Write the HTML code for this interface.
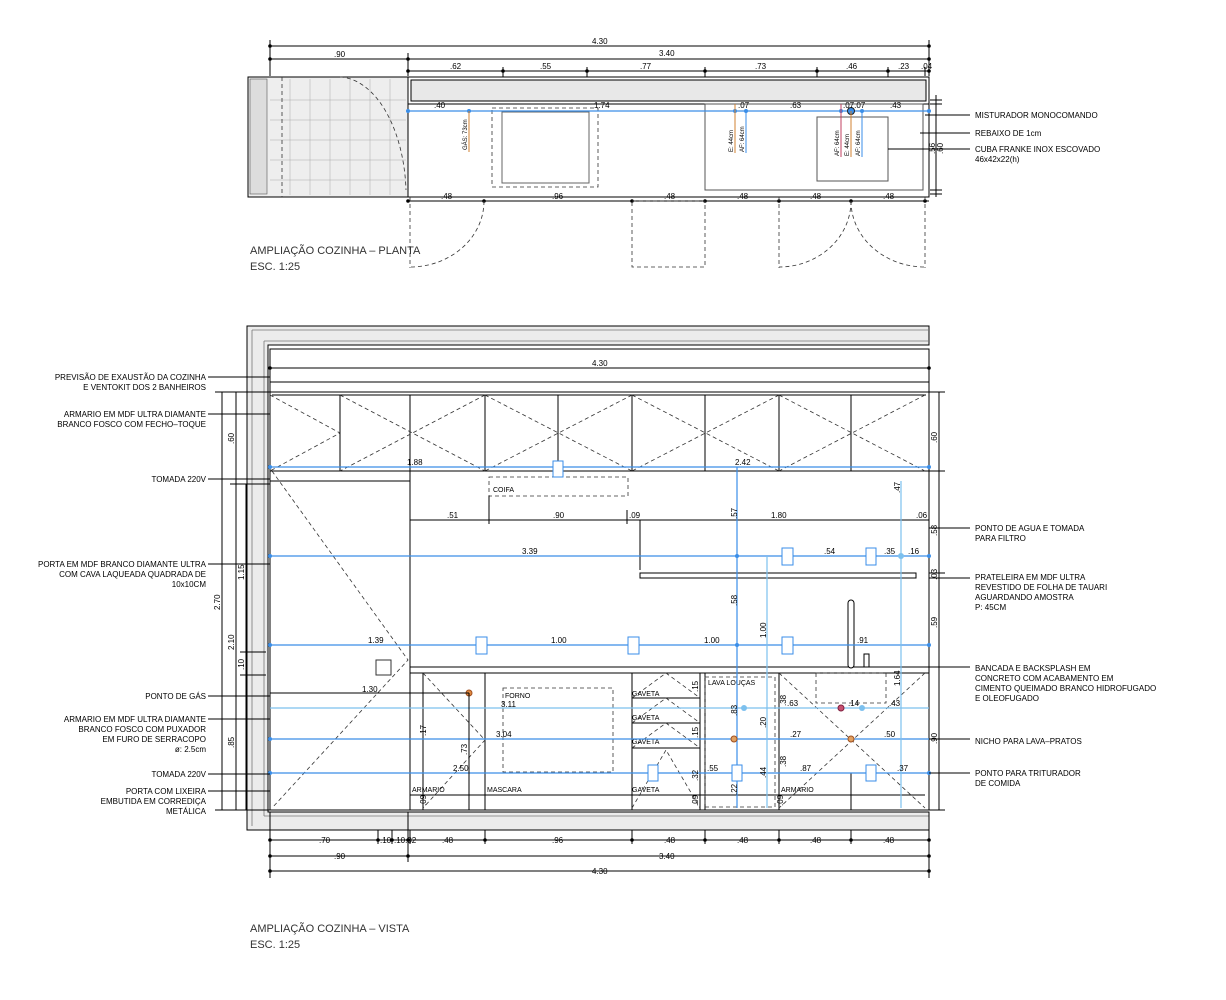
<!DOCTYPE html>
<html><head><meta charset="utf-8"><style>
html,body{margin:0;padding:0;background:#fff}
svg{display:block;font-family:"Liberation Sans",sans-serif}
text{font-size:8px;fill:#000}
.t{font-size:11px;fill:#333}
.k{stroke:#000;stroke-width:1;fill:none}
.g{stroke:#777;stroke-width:.8;fill:none}
.d{stroke:#333;stroke-width:.8;fill:none;stroke-dasharray:4 3}
.b{stroke:#3a8ee8;stroke-width:1.2;fill:none}
.lb{stroke:#7cc0ee;stroke-width:1.2;fill:none}
.bx{stroke:#3a8ee8;stroke-width:1;fill:#fff}
</style></head><body>
<svg width="1226" height="1000" viewBox="0 0 1226 1000" xmlns="http://www.w3.org/2000/svg">
<g class="k">
<line x1="270" y1="46" x2="929" y2="46"/><line x1="270" y1="40" x2="270" y2="76"/><line x1="929" y1="40" x2="929" y2="76"/>
<line x1="270" y1="59" x2="929" y2="59"/><line x1="408" y1="53" x2="408" y2="76"/>
<line x1="408" y1="71" x2="929" y2="71"/>
<line x1="503" y1="67" x2="503" y2="104"/><line x1="587" y1="67" x2="587" y2="104"/><line x1="705" y1="67" x2="705" y2="104"/><line x1="817" y1="67" x2="817" y2="104"/><line x1="888" y1="67" x2="888" y2="104"/><line x1="925" y1="67" x2="925" y2="76"/>
</g>
<g fill="#000"><circle cx="270" cy="46" r="1.8"/><circle cx="929" cy="46" r="1.8"/><circle cx="270" cy="59" r="1.8"/><circle cx="408" cy="59" r="1.8"/><circle cx="929" cy="59" r="1.8"/><circle cx="408" cy="71" r="1.8"/><circle cx="503" cy="71" r="1.8"/><circle cx="587" cy="71" r="1.8"/><circle cx="705" cy="71" r="1.8"/><circle cx="817" cy="71" r="1.8"/><circle cx="888" cy="71" r="1.8"/><circle cx="929" cy="71" r="1.8"/></g>
<text x="592" y="44">4.30</text><text x="334" y="57">.90</text><text x="659" y="56">3.40</text>
<text x="450" y="69">.62</text><text x="540" y="69">.55</text><text x="640" y="69">.77</text><text x="755" y="69">.73</text><text x="846" y="69">.46</text><text x="898" y="69">.23</text><text x="921" y="69">.04</text>
<rect x="248" y="77" width="160" height="120" fill="#eee" stroke="#000"/>
<rect x="250" y="79" width="17" height="115" fill="#ddd" stroke="#555" stroke-width=".6"/>
<g stroke="#aaa" stroke-width=".5">
<line x1="290" y1="79" x2="290" y2="195"/><line x1="310" y1="79" x2="310" y2="195"/><line x1="330" y1="79" x2="330" y2="195"/><line x1="350" y1="79" x2="350" y2="195"/><line x1="370" y1="79" x2="370" y2="195"/><line x1="390" y1="79" x2="390" y2="195"/>
<line x1="270" y1="100" x2="406" y2="100"/><line x1="270" y1="120" x2="406" y2="120"/><line x1="270" y1="140" x2="406" y2="140"/><line x1="270" y1="160" x2="406" y2="160"/><line x1="270" y1="180" x2="406" y2="180"/>
</g>
<path class="d" d="M340 77 A68 120 0 0 1 406 190"/>
<line class="d" x1="282" y1="77" x2="282" y2="197"/>
<rect x="408" y="77" width="521" height="120" fill="#fff" stroke="#000"/>
<rect x="411" y="80" width="515" height="21" fill="#e8e8e8" stroke="#000"/>
<line class="k" x1="408" y1="104" x2="929" y2="104"/>
<rect class="d" x="492" y="108" width="106" height="79"/>
<rect x="502" y="112" width="87" height="71" fill="none" stroke="#666"/>
<rect x="705" y="104" width="218" height="86" fill="none" stroke="#555"/>
<rect x="817" y="117" width="71" height="64" fill="none" stroke="#555"/>
<line class="b" x1="408" y1="111" x2="929" y2="111"/>
<g fill="#3a8ee8"><circle cx="408" cy="111" r="2"/><circle cx="469" cy="111" r="2"/><circle cx="735" cy="111" r="2"/><circle cx="746" cy="111" r="2"/><circle cx="841" cy="111" r="2"/><circle cx="862" cy="111" r="2"/><circle cx="929" cy="111" r="2"/><circle cx="851" cy="111" r="3.5" stroke="#222"/></g>
<line stroke="#d08030" x1="469" y1="111" x2="469" y2="152"/>
<line stroke="#d08030" x1="735" y1="104" x2="735" y2="153"/><line stroke="#3a8ee8" x1="746" y1="111" x2="746" y2="153"/>
<line stroke="#c04060" x1="841" y1="104" x2="841" y2="157"/><line stroke="#d08030" x1="851" y1="111" x2="851" y2="157"/><line stroke="#3a8ee8" x1="862" y1="111" x2="862" y2="157"/>
<text transform="translate(467,150) rotate(-90)" style="font-size:6px">GÁS: 73cm</text>
<text transform="translate(733,152) rotate(-90)" style="font-size:6px">E: 44cm</text><text transform="translate(744,152) rotate(-90)" style="font-size:6px">AF: 64cm</text>
<text transform="translate(839,156) rotate(-90)" style="font-size:6px">AF: 64cm</text><text transform="translate(849,156) rotate(-90)" style="font-size:6px">E: 44cm</text><text transform="translate(860,156) rotate(-90)" style="font-size:6px">AF: 64cm</text>
<text x="434" y="108">.40</text><text x="594" y="108">1.74</text><text x="738" y="108">.07</text><text x="790" y="108">.63</text><text x="843" y="108">.07.07</text><text x="890" y="108">.43</text>
<g class="k"><line x1="936" y1="95" x2="936" y2="197"/><line x1="930" y1="100" x2="942" y2="100"/><line x1="930" y1="104" x2="942" y2="104"/><line x1="930" y1="190" x2="942" y2="190"/><line x1="930" y1="194" x2="942" y2="194"/></g>
<text transform="translate(935,154) rotate(-90)">.56</text><text transform="translate(943,154) rotate(-90)">.60</text>
<g class="k"><line x1="925" y1="115" x2="970" y2="115"/><line x1="920" y1="133" x2="970" y2="133"/><line x1="888" y1="149" x2="970" y2="149"/></g>
<text x="975" y="118">MISTURADOR MONOCOMANDO</text><text x="975" y="136">REBAIXO  DE 1cm</text><text x="975" y="152">CUBA FRANKE INOX ESCOVADO</text><text x="975" y="162">46x42x22(h)</text>
<g class="k"><line x1="408" y1="201" x2="929" y2="201"/></g>
<g fill="#000"><circle cx="408" cy="201" r="1.8"/><circle cx="484" cy="201" r="1.8"/><circle cx="632" cy="201" r="1.8"/><circle cx="705" cy="201" r="1.8"/><circle cx="779" cy="201" r="1.8"/><circle cx="851" cy="201" r="1.8"/><circle cx="925" cy="201" r="1.8"/></g>
<text x="441" y="199">.48</text><text x="552" y="199">.96</text><text x="664" y="199">.48</text><text x="737" y="199">.48</text><text x="810" y="199">.48</text><text x="883" y="199">.48</text>
<g class="d"><line x1="410" y1="197" x2="410" y2="268"/><path d="M484 201 A74 66 0 0 1 410 267"/><rect x="632" y="201" width="73" height="66"/><line x1="779" y1="197" x2="779" y2="268"/><line x1="925" y1="197" x2="925" y2="268"/><path d="M851 201 A72 66 0 0 1 779 267"/><path d="M851 201 A74 66 0 0 0 925 267"/></g>
<text class="t" x="250" y="254">AMPLIAÇÃO COZINHA – PLANTA</text><text class="t" x="250" y="270">ESC. 1:25</text>

<path d="M247 326 H929 V345 H268 V812 H929 V830 H247 Z" fill="#ececec" stroke="#000"/>
<line class="g" x1="252" y1="330" x2="929" y2="330"/><line class="g" x1="252" y1="330" x2="252" y2="826"/><line class="g" x1="264" y1="341" x2="929" y2="341"/><line class="g" x1="264" y1="341" x2="264" y2="816"/><line class="g" x1="264" y1="816" x2="929" y2="816"/>
<rect x="270" y="349" width="659" height="461" fill="#fff" stroke="#000"/>
<line class="k" x1="270" y1="382" x2="929" y2="382"/>
<line class="k" x1="270" y1="368" x2="929" y2="368"/><circle cx="270" cy="368" r="1.8"/><circle cx="929" cy="368" r="1.8"/>
<text x="592" y="366">4.30</text>
<rect class="k" x="270" y="392" width="659" height="79"/><line class="k" x1="272" y1="395" x2="926" y2="395"/>
<g class="k"><line x1="340" y1="395" x2="340" y2="471"/><line x1="410" y1="395" x2="410" y2="810"/><line x1="485" y1="395" x2="485" y2="471"/><line x1="558" y1="395" x2="558" y2="471"/><line x1="632" y1="395" x2="632" y2="471"/><line x1="705" y1="395" x2="705" y2="471"/><line x1="779" y1="395" x2="779" y2="471"/><line x1="851" y1="395" x2="851" y2="471"/></g>
<g class="d"><path d="M270 395 L340 433 L270 471"/><path d="M340 395 L485 471 M485 395 L340 471"/><path d="M485 395 L632 471 M632 395 L485 471"/><path d="M632 395 L779 471 M779 395 L632 471"/><path d="M779 395 L925 471 M925 395 L779 471"/></g>
<path class="d" d="M272 471 L408 660 L272 808"/>
<rect x="376" y="660" width="15" height="15" fill="#fff" stroke="#333"/>
<line class="k" x1="270" y1="481" x2="410" y2="481"/>
<rect class="d" x="489" y="477" width="139" height="19"/><text x="493" y="492" style="font-size:7px">COIFA</text>
<g class="k"><line x1="410" y1="520" x2="640" y2="520"/><line x1="489" y1="496" x2="489" y2="524"/><line x1="627" y1="510" x2="627" y2="524"/><line x1="640" y1="520" x2="640" y2="570"/><line x1="640" y1="520" x2="929" y2="520"/></g>
<text x="447" y="518">.51</text><text x="553" y="518">.90</text><text x="629" y="518">.09</text><text x="771" y="518">1.80</text><text x="916" y="518">.06</text>
<rect x="640" y="573" width="276" height="5" fill="#fff" stroke="#000"/>
<rect x="410" y="667" width="519" height="6" fill="#fff" stroke="#000"/>
<line class="k" x1="410" y1="810" x2="929" y2="810"/>
<g class="k"><line x1="423" y1="673" x2="423" y2="810"/><line x1="485" y1="673" x2="485" y2="810"/><line x1="632" y1="673" x2="632" y2="810"/><line x1="700" y1="673" x2="700" y2="810"/><line x1="705" y1="673" x2="705" y2="810"/><line x1="779" y1="673" x2="779" y2="810"/><line x1="851" y1="773" x2="851" y2="810"/>
<line x1="632" y1="698" x2="700" y2="698"/><line x1="632" y1="723" x2="700" y2="723"/><line x1="632" y1="748" x2="700" y2="748"/><line x1="410" y1="795" x2="925" y2="795"/></g>
<rect class="d" x="503" y="688" width="110" height="84"/><rect class="d" x="705" y="677" width="70" height="130"/><rect class="d" x="816" y="673" width="70" height="30"/>
<g class="d"><path d="M423 673 L485 740 L423 808"/><path d="M632 698 L666 673 L700 698"/><path d="M632 723 L666 698 L700 723"/><path d="M632 748 L666 723 L700 748"/><path d="M632 808 L666 750 L700 808"/><path d="M779 673 L925 808 M925 673 L779 808"/></g>
<text x="505" y="698" style="font-size:7px">FORNO</text><text x="708" y="685" style="font-size:7px">LAVA  LOUÇAS</text>
<text x="632" y="696" style="font-size:7px">GAVETA</text><text x="632" y="720" style="font-size:7px">GAVETA</text><text x="632" y="744" style="font-size:7px">GAVETA</text><text x="632" y="792" style="font-size:7px">GAVETA</text>
<text x="412" y="792" style="font-size:7px">ARMARIO</text><text x="487" y="792" style="font-size:7px">MASCARA</text><text x="781" y="792" style="font-size:7px">ARMARIO</text>
<rect x="848" y="600" width="6" height="68" rx="3" fill="#fff" stroke="#000"/><rect x="864" y="654" width="5" height="13" fill="#fff" stroke="#000"/>
<line class="b" x1="270" y1="467" x2="929" y2="467"/><line class="b" x1="270" y1="556" x2="929" y2="556"/><line class="b" x1="270" y1="645" x2="929" y2="645"/>
<line class="lb" x1="270" y1="708" x2="929" y2="708"/><line class="b" x1="270" y1="739" x2="929" y2="739"/><line class="b" x1="270" y1="773" x2="929" y2="773"/>
<line class="b" x1="737" y1="467" x2="737" y2="808"/><line class="lb" x1="767" y1="556" x2="767" y2="808"/><line class="lb" x1="901" y1="481" x2="901" y2="808"/>
<g class="bx"><rect x="553" y="461" width="10" height="16"/><rect x="782" y="548" width="11" height="17"/><rect x="866" y="548" width="10" height="17"/><rect x="476" y="637" width="11" height="17"/><rect x="628" y="637" width="11" height="17"/><rect x="782" y="637" width="11" height="17"/><rect x="648" y="765" width="10" height="16"/><rect x="732" y="765" width="10" height="16"/><rect x="866" y="765" width="10" height="16"/></g>
<g fill="#3a8ee8"><circle cx="270" cy="467" r="2"/><circle cx="929" cy="467" r="2"/><circle cx="270" cy="556" r="2"/><circle cx="737" cy="556" r="2"/><circle cx="929" cy="556" r="2"/><circle cx="270" cy="645" r="2"/><circle cx="737" cy="645" r="2"/><circle cx="929" cy="645" r="2"/><circle cx="270" cy="739" r="2"/><circle cx="270" cy="773" r="2"/><circle cx="929" cy="773" r="2"/><circle cx="744" cy="708" r="3" fill="#7cc0ee"/><circle cx="862" cy="708" r="3" fill="#7cc0ee"/><circle cx="901" cy="556" r="3" fill="#7cc0ee"/></g>
<circle cx="469" cy="693" r="3" fill="#e08a40" stroke="#a05020"/><circle cx="734" cy="739" r="3" fill="#e0a060" stroke="#a05020"/><circle cx="851" cy="739" r="3" fill="#e0a060" stroke="#a05020"/><circle cx="841" cy="708" r="3" fill="#c85070" stroke="#802040"/>
<line class="k" x1="270" y1="693" x2="469" y2="693"/><line class="k" x1="469" y1="693" x2="469" y2="810"/>
<text x="407" y="465">1.88</text><text x="735" y="465">2.42</text><text x="522" y="554">3.39</text><text x="824" y="554">.54</text><text x="884" y="554">.35</text><text x="908" y="554">.16</text>
<text x="368" y="643">1.39</text><text x="551" y="643">1.00</text><text x="704" y="643">1.00</text><text x="857" y="643">.91</text>
<text x="362" y="692">1.30</text><text x="501" y="707">3.11</text><text x="496" y="737">3.04</text><text x="453" y="771">2.50</text>
<text x="707" y="771">.55</text><text x="787" y="706">.63</text><text x="790" y="737">.27</text><text x="848" y="706">.14</text><text x="889" y="706">.43</text><text x="884" y="737">.50</text><text x="800" y="771">.87</text><text x="897" y="771">.37</text>
<g style="font-size:7px"><text transform="translate(737,519) rotate(-90)">.57</text><text transform="translate(737,606) rotate(-90)">.58</text><text transform="translate(766,638) rotate(-90)">1.00</text><text transform="translate(900,493) rotate(-90)">.47</text><text transform="translate(900,686) rotate(-90)">1.64</text>
<text transform="translate(737,716) rotate(-90)">.83</text><text transform="translate(766,728) rotate(-90)">.20</text><text transform="translate(766,778) rotate(-90)">.44</text><text transform="translate(737,795) rotate(-90)">.22</text><text transform="translate(786,706) rotate(-90)">.38</text><text transform="translate(786,767) rotate(-90)">.38</text>
<text transform="translate(698,692) rotate(-90)">.15</text><text transform="translate(698,738) rotate(-90)">.15</text><text transform="translate(698,781) rotate(-90)">.32</text><text transform="translate(698,806) rotate(-90)">.09</text><text transform="translate(426,806) rotate(-90)">.09</text><text transform="translate(426,736) rotate(-90)">.17</text><text transform="translate(467,755) rotate(-90)">.73</text><text transform="translate(783,806) rotate(-90)">.09</text></g>
<g class="k"><line x1="939" y1="392" x2="939" y2="810"/><line x1="929" y1="392" x2="945" y2="392"/><line x1="929" y1="471" x2="945" y2="471"/><line x1="929" y1="528" x2="970" y2="528"/><line x1="929" y1="573" x2="945" y2="573"/><line x1="929" y1="578" x2="970" y2="578"/><line x1="929" y1="667" x2="970" y2="667"/><line x1="929" y1="739" x2="970" y2="739"/><line x1="929" y1="773" x2="970" y2="773"/><line x1="929" y1="810" x2="945" y2="810"/></g>
<g style="font-size:7px"><text transform="translate(937,443) rotate(-90)">.60</text><text transform="translate(937,536) rotate(-90)">.58</text><text transform="translate(937,580) rotate(-90)">.03</text><text transform="translate(937,628) rotate(-90)">.59</text><text transform="translate(937,744) rotate(-90)">.90</text></g>
<text x="975" y="531">PONTO DE AGUA E TOMADA</text><text x="975" y="541">PARA FILTRO</text>
<text x="975" y="580">PRATELEIRA EM MDF ULTRA</text><text x="975" y="590">REVESTIDO DE FOLHA DE TAUARI</text><text x="975" y="600">AGUARDANDO AMOSTRA</text><text x="975" y="610">P: 45CM</text>
<text x="975" y="671">BANCADA E BACKSPLASH EM</text><text x="975" y="681">CONCRETO COM ACABAMENTO EM</text><text x="975" y="691">CIMENTO QUEIMADO BRANCO HIDROFUGADO</text><text x="975" y="701">E OLEOFUGADO</text>
<text x="975" y="744">NICHO PARA LAVA–PRATOS</text><text x="975" y="776">PONTO PARA TRITURADOR</text><text x="975" y="786">DE COMIDA</text>
<g class="k"><line x1="222" y1="392" x2="222" y2="810"/><line x1="236" y1="392" x2="236" y2="810"/><line x1="246" y1="484" x2="246" y2="810"/>
<line x1="215" y1="392" x2="270" y2="392"/><line x1="230" y1="484" x2="270" y2="484"/><line x1="240" y1="652" x2="266" y2="652"/><line x1="240" y1="675" x2="266" y2="675"/><line x1="215" y1="810" x2="270" y2="810"/></g>
<g style="font-size:7px"><text transform="translate(234,444) rotate(-90)">.60</text><text transform="translate(244,580) rotate(-90)">1.15</text><text transform="translate(220,610) rotate(-90)">2.70</text><text transform="translate(234,650) rotate(-90)">2.10</text><text transform="translate(244,670) rotate(-90)">.10</text><text transform="translate(234,748) rotate(-90)">.85</text></g>
<g class="k"><line x1="208" y1="377" x2="270" y2="377"/><line x1="208" y1="414" x2="270" y2="414"/><line x1="208" y1="479" x2="270" y2="479"/><line x1="208" y1="564" x2="270" y2="564"/><line x1="208" y1="696" x2="270" y2="696"/><line x1="208" y1="719" x2="270" y2="719"/><line x1="208" y1="774" x2="270" y2="774"/><line x1="208" y1="791" x2="270" y2="791"/></g>
<g text-anchor="end">
<text x="206" y="380">PREVISÃO DE EXAUSTÃO DA COZINHA</text><text x="206" y="390">E VENTOKIT DOS 2 BANHEIROS</text>
<text x="206" y="417">ARMARIO EM MDF ULTRA DIAMANTE</text><text x="206" y="427">BRANCO FOSCO COM FECHO–TOQUE</text>
<text x="206" y="482">TOMADA 220V</text>
<text x="206" y="567">PORTA EM MDF BRANCO DIAMANTE ULTRA</text><text x="206" y="577">COM CAVA LAQUEADA QUADRADA DE</text><text x="206" y="587">10x10CM</text>
<text x="206" y="699">PONTO DE GÁS</text>
<text x="206" y="722">ARMARIO EM MDF ULTRA DIAMANTE</text><text x="206" y="732">BRANCO FOSCO COM PUXADOR</text><text x="206" y="742">EM FURO DE SERRACOPO</text><text x="206" y="752">ø: 2.5cm</text>
<text x="206" y="777">TOMADA 220V</text>
<text x="206" y="794">PORTA COM LIXEIRA</text><text x="206" y="804">EMBUTIDA EM CORREDIÇA</text><text x="206" y="814">METÁLICA</text>
</g>
<g class="k"><line x1="270" y1="840" x2="929" y2="840"/><line x1="270" y1="856" x2="929" y2="856"/><line x1="270" y1="871" x2="929" y2="871"/>
<line x1="270" y1="812" x2="270" y2="878"/><line x1="929" y1="812" x2="929" y2="878"/><line x1="408" y1="812" x2="408" y2="862"/>
<line x1="378" y1="830" x2="378" y2="844"/><line x1="392" y1="830" x2="392" y2="844"/><line x1="410" y1="830" x2="410" y2="844"/><line x1="485" y1="830" x2="485" y2="844"/><line x1="632" y1="830" x2="632" y2="844"/><line x1="705" y1="830" x2="705" y2="844"/><line x1="779" y1="830" x2="779" y2="844"/><line x1="851" y1="830" x2="851" y2="844"/></g>
<g fill="#000"><circle cx="270" cy="840" r="1.8"/><circle cx="378" cy="840" r="1.8"/><circle cx="392" cy="840" r="1.8"/><circle cx="408" cy="840" r="1.8"/><circle cx="485" cy="840" r="1.8"/><circle cx="632" cy="840" r="1.8"/><circle cx="705" cy="840" r="1.8"/><circle cx="779" cy="840" r="1.8"/><circle cx="851" cy="840" r="1.8"/><circle cx="929" cy="840" r="1.8"/><circle cx="270" cy="856" r="1.8"/><circle cx="408" cy="856" r="1.8"/><circle cx="929" cy="856" r="1.8"/><circle cx="270" cy="871" r="1.8"/><circle cx="929" cy="871" r="1.8"/></g>
<text x="319" y="843">.70</text><text x="380" y="843">.10</text><text x="394" y="843">.10.02</text><text x="442" y="843">.48</text><text x="552" y="843">.96</text><text x="664" y="843">.48</text><text x="737" y="843">.48</text><text x="810" y="843">.48</text><text x="883" y="843">.48</text>
<text x="334" y="859">.90</text><text x="659" y="859">3.40</text><text x="592" y="874">4.30</text>
<text class="t" x="250" y="932">AMPLIAÇÃO COZINHA – VISTA</text><text class="t" x="250" y="948">ESC. 1:25</text>
</svg>
</body></html>
